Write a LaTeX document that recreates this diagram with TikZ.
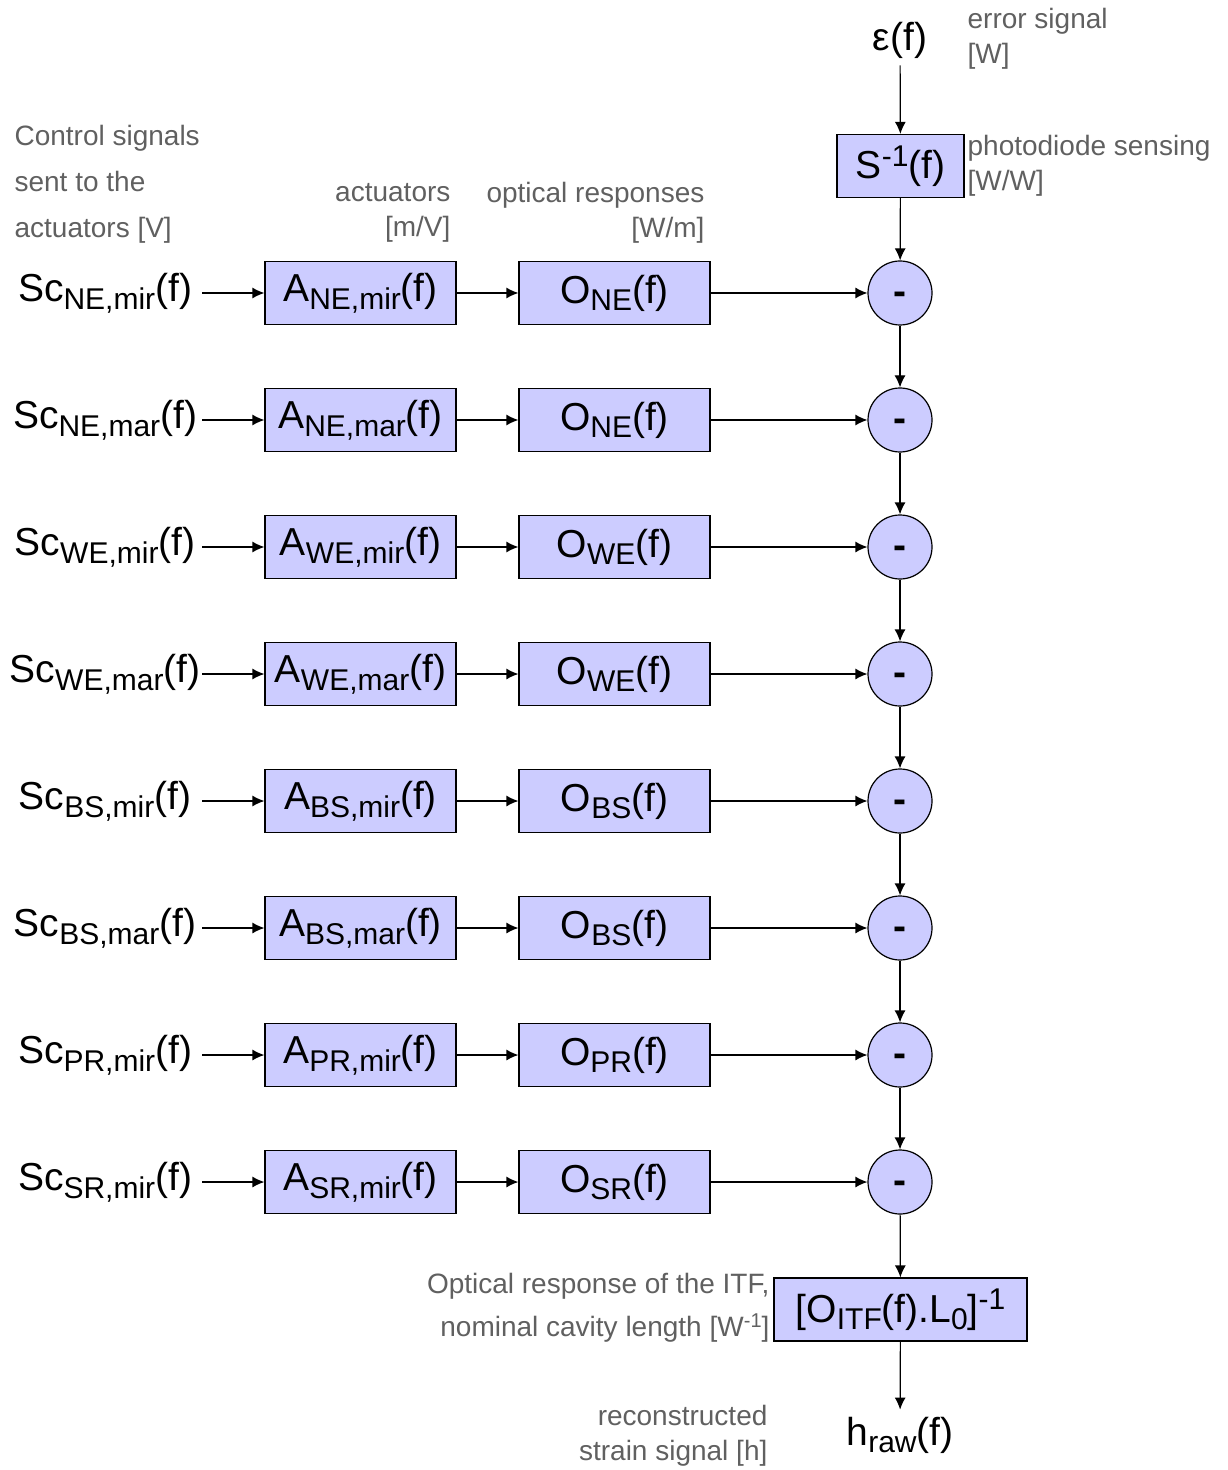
\documentclass[tikz,border=0pt]{standalone}
\usepackage{fontspec}
\usetikzlibrary{arrows.meta}
\setmainfont{Liberation Sans}
\definecolor{boxblue}{HTML}{CCCCFF}
\definecolor{notegray}{HTML}{606060}
\newcommand\lo[1]{\raisebox{-0.2em}{\fontsize{15}{15}\selectfont #1}}
\newcommand\hi[2][15]{\raisebox{0.32em}{\fontsize{#1}{#1}\selectfont #2}}
\tikzset{
  blk/.style={draw,fill=boxblue,minimum width=95.5pt,minimum height=31.5pt,inner sep=0pt},
  sumnode/.style={circle,draw,fill=boxblue,minimum size=32pt,inner sep=0pt,font=\fontsize{19.5}{19.5}\selectfont\bfseries},
  note/.style={text=notegray,inner sep=0pt,font=\fontsize{14}{17.5}\selectfont},
  link/.style={-{Latex[length=6pt,width=5.5pt]}},
}
\begin{document}
\begin{tikzpicture}[x=0.5pt,y=-0.5pt,font=\fontsize{19.5}{19.5}\selectfont,semithick]
    \useasboundingbox (0,0) rectangle (1227,1470);
    % sensing chain
    \node (eps) at (900,40) {ε(f)};
    \node[blk,minimum width=63.5pt] (sens) at (900.5,166) {S\hi{-1}(f)};
    \node[note,anchor=west,align=left] at (967,38.5) {error signal\\{[W]}};
    \node[note,anchor=west,align=left] at (967,165.5) {photodiode sensing\\{[W/W]}};
    % column titles
    \node[note,anchor=west,align=left,font=\fontsize{14}{23}\selectfont] at (14,184) {Control signals\\sent to the\\actuators [V]};
    \node[note,anchor=east,align=right] at (451,212.5) {actuators\\{[m/V]}};
    \node[note,anchor=east,align=right] at (705,212.5) {optical responses\\{[W/m]}};
    % one row per actuator
    \foreach \i/\y/\arm/\kind in {1/293/NE/mir,2/420/NE/mar,3/547/WE/mir,4/674/WE/mar,
                                  5/801/BS/mir,6/928/BS/mar,7/1055/PR/mir,8/1182/SR/mir}{
      \node (sc\i) at (105,\y) {Sc\lo{\arm,\kind}(f)};
      \coordinate (in\i) at (202,\y);
      \node[blk] (act\i) at (360.5,\y) {A\lo{\arm,\kind}(f)};
      \node[blk] (opt\i) at (614.5,\y) {O\lo{\arm}(f)};
      \node[sumnode] (sub\i) at (900,\y) {\smash{\raisebox{-5.6pt}{-}}};
      \draw[link] (in\i) -- (act\i);
      \draw[link] (act\i) -- (opt\i);
      \draw[link] (opt\i) -- (sub\i);
    }
    \draw[link] (eps) -- (sens);
    \draw[link] (sens) -- (sub1);
    \foreach \i [count=\j from 2] in {1,...,7}
      \draw[link] (sub\i) -- (sub\j);
    % strain reconstruction
    \node[blk,minimum width=126.5pt] (itf) at (900.5,1309.5) {[O\lo{ITF}(f).L\lo{0}]\hi{-1}};
    \node (hraw) at (900,1435) {h\lo{raw}(f)};
    \draw[link] (sub8) -- (itf);
    \draw[link] (itf) -- (hraw);
    \node[note,anchor=east,align=right,font=\fontsize{14}{21.5}\selectfont] at (770,1307.5) {Optical response of the ITF,\\nominal cavity length [W\hi[10]{-1}]};
    \node[note,anchor=east,align=right] at (768,1435.5) {reconstructed\\strain signal [h]};
\end{tikzpicture}
\end{document}
